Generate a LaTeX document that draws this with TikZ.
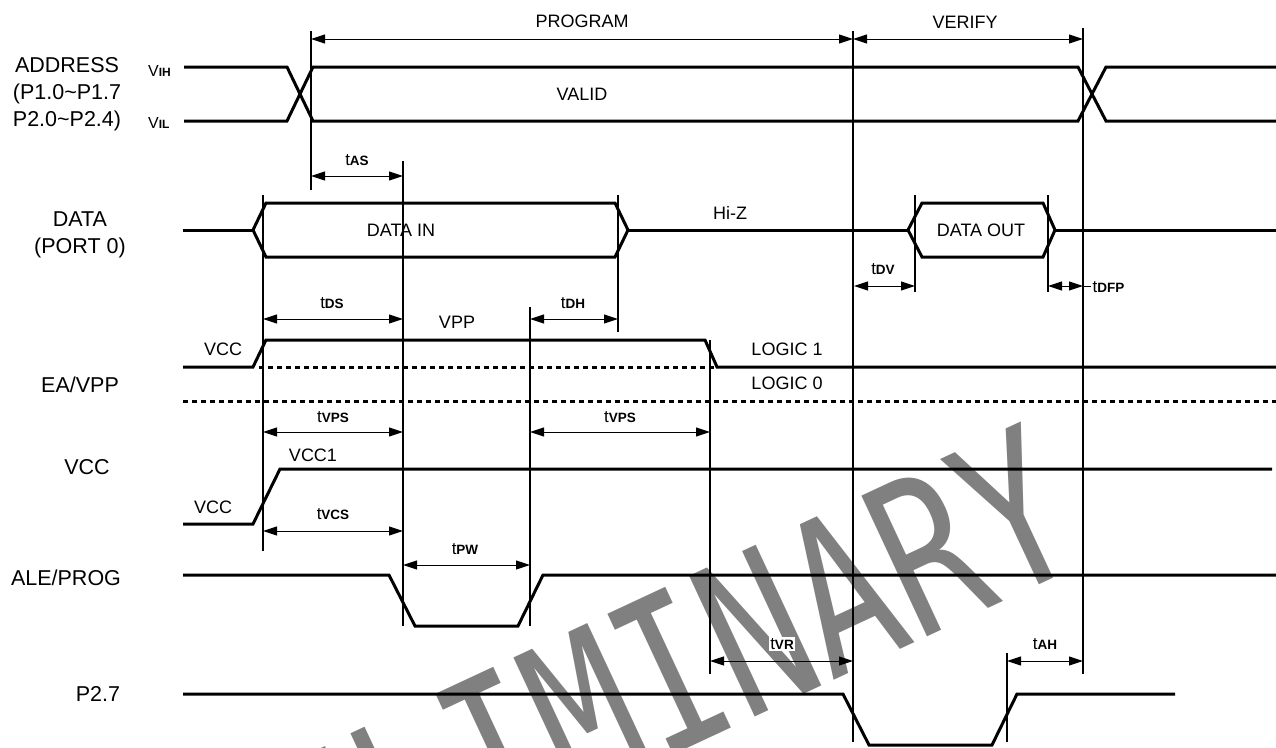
\documentclass[tikz,border=0pt]{standalone}
\usepackage{fontspec}
\setmainfont{Liberation Sans}
\newfontfamily\wmfont{DejaVu Sans Mono}
\usetikzlibrary{arrows.meta}
\definecolor{wmgray}{RGB}{128,128,128}
\newcommand\tsub[1]{{\fontsize{17}{17}\selectfont t}{\fontsize{13.5}{13.5}\selectfont\bfseries #1}}
\newcommand\vsub[1]{{\fontsize{16}{16}\selectfont V}{\fontsize{12}{12}\selectfont\bfseries #1}}
\tikzset{
  sig/.style={line width=3pt, line join=miter},
  guide/.style={line width=1.2pt},
  dimarrow/.style={line width=1pt, {Triangle[length=14pt,width=9pt]}-{Triangle[length=14pt,width=9pt]}},
  dotline/.style={line width=3pt, dash pattern=on 5pt off 4pt},
  lbl/.style={inner sep=0pt, font=\fontsize{18}{18}\selectfont},
  side/.style={inner sep=0pt, font=\fontsize{21.5}{27}\selectfont, align=center},
  tl/.style={inner sep=1.5pt, fill=white},
  wm/.style={text=wmgray, font=\wmfont\fontsize{213}{213}\selectfont, inner sep=0pt}
}
\begin{document}
\begin{tikzpicture}[x=1pt,y=-1pt]
\useasboundingbox[fill=white] (0,0) rectangle (1276,747);
% watermark
\node[wm, rotate=25, xscale=0.74, anchor=base east] (wmark) at (1090,561) {PRELIMINARY};

% side labels
\node[side] (laddr) at (67,94) {ADDRESS\\(P1.0\textasciitilde P1.7\\P2.0\textasciitilde P2.4)};
\node[side] (ldata) at (80,235) {DATA\\(PORT 0)};
\node[side] (lea) at (80,385) {EA/VPP};
\node[side] (lvcc) at (87,467) {VCC};
\node[side] (lale) at (66,578) {ALE/PROG};
\node[side] (lp27) at (98,694) {P2.7};
\node[inner sep=0pt, anchor=base west] (vih) at (148,76) {\vsub{IH}};
\node[inner sep=0pt, anchor=base west] (vil) at (148,128) {\vsub{IL}};

% guide lines
\draw[guide] (263,195) -- (263,551);
\draw[guide] (311,31) -- (311,190);
\draw[guide] (403,161) -- (403,626);
\draw[guide] (530,307) -- (530,626);
\draw[guide] (618,195) -- (618,332);
\draw[guide] (710,340) -- (710,674);
\draw[guide] (853,31) -- (853,742);
\draw[guide] (915,195) -- (915,292);
\draw[guide] (1048,195) -- (1048,292);
\draw[guide] (1083,28) -- (1083,674);
\draw[guide] (1007,653) -- (1007,742);

% ADDRESS
\draw[sig] (184,67) -- (287,67) -- (313,121) -- (1078,121) -- (1106,67) -- (1276,67);
\draw[sig] (184,121) -- (287,121) -- (313,67) -- (1078,67) -- (1106,121) -- (1276,121);
% DATA
\draw[sig] (183,230) -- (253,230);
\draw[sig] (253,230) -- (266,203) -- (615,203) -- (628,230) -- (615,257) -- (266,257) -- cycle;
\draw[sig] (628,230) -- (908,230);
\draw[sig] (908,230) -- (922,203) -- (1043,203) -- (1055,230) -- (1043,257) -- (922,257) -- cycle;
\draw[sig] (1055,230) -- (1276,230);
% EA/VPP
\draw[sig] (183,367) -- (253,367) -- (266,340) -- (705,340) -- (717,367) -- (1276,367);
\draw[dotline] (259,367) -- (717,367);
\draw[dotline] (183,401) -- (1276,401);
% VCC
\draw[sig] (183,524) -- (253,524) -- (280,469) -- (1272,469);
% ALE/PROG
\draw[sig] (183,575) -- (389,575) -- (415,626) -- (518,626) -- (543,575) -- (1276,575);
% P2.7
\draw[sig] (183,694) -- (843,694) -- (869,745) -- (992,745) -- (1017,694) -- (1175,694);

% dimension arrows
\draw[dimarrow] (311,39) -- (853,39);
\draw[dimarrow] (853,39) -- (1083,39);
\draw[dimarrow] (311,176) -- (403,176);
\draw[dimarrow] (263,319) -- (403,319);
\draw[dimarrow] (530,319) -- (618,319);
\draw[dimarrow] (854,286) -- (915,286);
\draw[dimarrow] (1048,286) -- (1083,286);
\draw[line width=1pt] (1083,286) -- (1091,286);
\draw[dimarrow] (263,432) -- (403,432);
\draw[dimarrow] (530,432) -- (710,432);
\draw[dimarrow] (263,531) -- (403,531);
\draw[dimarrow] (403,565) -- (530,565);
\draw[dimarrow] (710,661) -- (853,661);
\draw[dimarrow] (1007,661) -- (1083,661);

% labels
\node[lbl] (lprog) at (582,21) {PROGRAM};
\node[lbl] (lver) at (965,22) {VERIFY};
\node[lbl] (lvalid) at (582,94) {VALID};
\node[lbl] (ldin) at (401,230) {DATA IN};
\node[lbl] (lhiz) at (730,213) {Hi-Z};
\node[lbl] (ldout) at (981,230) {DATA OUT};
\node[lbl] (lvpp) at (457,322) {VPP};
\node[lbl] (lvcca) at (223,349) {VCC};
\node[lbl] (llog1) at (787,349) {LOGIC 1};
\node[lbl] (llog0) at (787,383) {LOGIC 0};
\node[lbl] (lvcc1) at (313,455) {VCC1};
\node[lbl] (lvccb) at (213,507) {VCC};

\node[tl] (tas) at (357,160) {\tsub{AS}};
\node[tl] (tds) at (332,303) {\tsub{DS}};
\node[tl] (tdh) at (573,303) {\tsub{DH}};
\node[tl] (tdv) at (883,269) {\tsub{DV}};
\node[tl, anchor=west] (tdfp) at (1091,287) {\tsub{DFP}};
\node[tl] (tvps) at (333,417) {\tsub{VPS}};
\node[tl] (tvpsb) at (620,417) {\tsub{VPS}};
\node[tl] (tvcs) at (333,514) {\tsub{VCS}};
\node[tl] (tpw) at (465,549) {\tsub{PW}};
\node[tl] (tvr) at (782,644) {\tsub{VR}};
\node[tl] (tah) at (1045,644) {\tsub{AH}};
\end{tikzpicture}
\end{document}
